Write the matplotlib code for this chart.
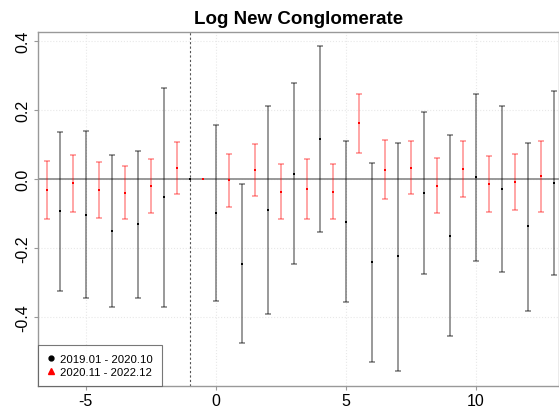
import matplotlib
matplotlib.use("Agg")
import matplotlib.pyplot as plt
from matplotlib.lines import Line2D
import numpy as np

plt.rcParams['font.family'] = ['Liberation Sans', 'DejaVu Sans']

# Series 1: 2019.01 - 2020.10 (black), event times -6..13
x_black = [-6, -5, -4, -3, -2, -1, 0, 1, 2, 3, 4, 5, 6, 7, 8, 9, 10, 11, 12, 13]
est_black = [-0.093, -0.103, -0.150, -0.131, -0.053, 0.0, -0.097, -0.246, -0.090, 0.015,
             0.117, -0.123, -0.241, -0.223, -0.040, -0.164, 0.006, -0.028, -0.136, -0.012]
hi_black = [0.137, 0.140, 0.071, 0.080, 0.265, 0.0, 0.158, -0.014, 0.211, 0.278,
            0.385, 0.109, 0.048, 0.106, 0.195, 0.127, 0.248, 0.212, 0.106, 0.255]
lo_black = [-0.323, -0.346, -0.372, -0.346, -0.371, 0.0, -0.352, -0.476, -0.391, -0.247,
            -0.152, -0.355, -0.531, -0.555, -0.275, -0.455, -0.238, -0.269, -0.381, -0.277]

# Series 2: 2020.11 - 2022.12 (red), event times -6.5..12.5
x_red = [-6.5, -5.5, -4.5, -3.5, -2.5, -1.5, -0.5, 0.5, 1.5, 2.5, 3.5, 4.5, 5.5, 6.5, 7.5,
         8.5, 9.5, 10.5, 11.5, 12.5]
est_red = [-0.032, -0.011, -0.031, -0.039, -0.019, 0.032, 0.0, -0.003, 0.027, -0.037,
           -0.029, -0.037, 0.162, 0.027, 0.033, -0.019, 0.029, -0.014, -0.008, 0.008]
hi_red = [0.053, 0.071, 0.050, 0.039, 0.057, 0.108, 0.0, 0.074, 0.103, 0.044,
          0.058, 0.043, 0.248, 0.112, 0.109, 0.062, 0.109, 0.067, 0.072, 0.109]
lo_red = [-0.117, -0.094, -0.113, -0.117, -0.099, -0.043, 0.0, -0.082, -0.048, -0.117,
          -0.115, -0.117, 0.077, -0.059, -0.043, -0.099, -0.052, -0.095, -0.089, -0.094]

x_ticks = [-5, 0, 5, 10]
y_ticks = [-0.4, -0.2, 0.0, 0.2, 0.4]
y_tick_labels = ["-0.4", "-0.2", "0.0", "0.2", "0.4"]
title = "Log New Conglomerate"
legend_labels = ["2019.01 - 2020.10", "2020.11 - 2022.12"]

fig = plt.figure(figsize=(5.59, 4.10), dpi=100)
ax = fig.add_axes([0.0674, 0.0568, 0.9326, 0.8632])
ax.set_xlim(-6.85, 13.2)
ax.set_ylim(-0.599, 0.427)

# grid
for xt in x_ticks:
    ax.axvline(xt, color='#e8e8e8', lw=0.8, ls=':', zorder=0)
for yt in y_ticks:
    ax.axhline(yt, color='#e8e8e8', lw=0.8, ls=':', zorder=0)

ax.axhline(0, color='#888888', lw=1.2, zorder=1)
ax.axvline(-1, color='#555555', lw=0.8, ls=(0, (2, 2)), zorder=1)

def draw(xs, est, lo, hi, col, alpha):
    for x, e, l, h in zip(xs, est, lo, hi):
        if l == h == e:
            continue
        ax.vlines(x, l, h, color=col, alpha=alpha, lw=1.4, zorder=2)
        ax.hlines([l, h], x - 0.12, x + 0.12, color=col, alpha=alpha, lw=1.4, zorder=2)
    ax.scatter(xs, est, marker='s', s=4.5, color=col, zorder=3, linewidths=0)

draw(x_black, est_black, lo_black, hi_black, 'black', 0.4)
draw(x_red, est_red, lo_red, hi_red, 'red', 0.35)

ax.set_xticks(x_ticks)
ax.set_xticklabels([str(v) for v in x_ticks], fontsize=11.5)
ax.set_yticks(y_ticks)
ax.set_yticklabels(y_tick_labels, fontsize=11.5, rotation=90, va='center')
ax.tick_params(axis='both', length=3, color='#999999', width=0.8, pad=2)

for s in ax.spines.values():
    s.set_color('#999999')
    s.set_linewidth(1.0)

ax.set_title(title, fontsize=13.5, fontweight='bold', pad=6)

handles = [Line2D([0], [0], marker='o', color='none', markerfacecolor='black',
                  markeredgecolor='black', markersize=3.5),
           Line2D([0], [0], marker='^', color='none', markerfacecolor='red',
                  markeredgecolor='red', markersize=4.5)]
leg = ax.legend(handles, legend_labels, loc='lower left', fontsize=8.2,
                frameon=True, fancybox=False, borderaxespad=0, handlelength=0.8,
                handletextpad=0.45, borderpad=0.75, labelspacing=0.3)
leg.get_frame().set_edgecolor('#555555')
leg.get_frame().set_linewidth(0.8)

fig.savefig('out.png', dpi=100)
